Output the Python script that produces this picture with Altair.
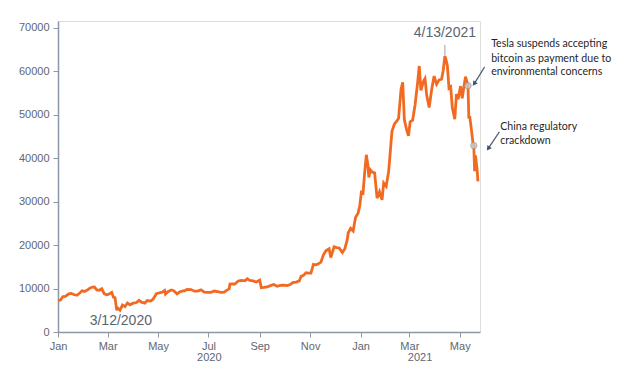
import altair as alt
import pandas as pd

dates = [
    "2020-01-01","2020-01-04","2020-01-07","2020-01-10","2020-01-14","2020-01-17","2020-01-20","2020-01-24",
    "2020-01-27","2020-01-30","2020-02-02","2020-02-05","2020-02-09","2020-02-12","2020-02-14","2020-02-17",
    "2020-02-20","2020-02-23","2020-02-26","2020-02-29","2020-03-03","2020-03-06","2020-03-08","2020-03-10",
    "2020-03-12","2020-03-13","2020-03-16","2020-03-19","2020-03-22","2020-03-25","2020-03-28","2020-04-01",
    "2020-04-05","2020-04-08","2020-04-11","2020-04-15","2020-04-18","2020-04-22","2020-04-25","2020-04-29",
    "2020-05-02","2020-05-06","2020-05-09","2020-05-10","2020-05-13","2020-05-17","2020-05-20","2020-05-24",
    "2020-05-27","2020-05-31","2020-06-02","2020-06-05","2020-06-10","2020-06-14","2020-06-18","2020-06-22",
    "2020-06-26","2020-06-30","2020-07-04","2020-07-08","2020-07-12","2020-07-16","2020-07-20","2020-07-23",
    "2020-07-26","2020-07-27","2020-07-30","2020-08-02","2020-08-06","2020-08-10","2020-08-14","2020-08-17",
    "2020-08-20","2020-08-24","2020-08-28","2020-09-01","2020-09-03","2020-09-06","2020-09-10","2020-09-14",
    "2020-09-18","2020-09-22","2020-09-26","2020-09-30","2020-10-04","2020-10-08","2020-10-11","2020-10-15",
    "2020-10-19","2020-10-21","2020-10-24","2020-10-27","2020-10-30","2020-11-02","2020-11-05","2020-11-08",
    "2020-11-11","2020-11-14","2020-11-17","2020-11-20","2020-11-24","2020-11-26","2020-11-30","2020-12-03",
    "2020-12-06","2020-12-10","2020-12-13","2020-12-16","2020-12-17","2020-12-20","2020-12-23","2020-12-26",
    "2020-12-29","2020-12-31","2021-01-02","2021-01-04","2021-01-06","2021-01-08","2021-01-10","2021-01-11",
    "2021-01-13","2021-01-15","2021-01-18","2021-01-21","2021-01-24","2021-01-27","2021-01-29","2021-02-01",
    "2021-02-04","2021-02-08","2021-02-11","2021-02-14","2021-02-16","2021-02-19","2021-02-21","2021-02-23",
    "2021-02-26","2021-02-28","2021-03-02","2021-03-05","2021-03-08","2021-03-11","2021-03-13","2021-03-15",
    "2021-03-18","2021-03-20","2021-03-22","2021-03-25","2021-03-28","2021-03-31","2021-04-03","2021-04-06",
    "2021-04-09","2021-04-11","2021-04-13","2021-04-14","2021-04-16","2021-04-18","2021-04-20","2021-04-22",
    "2021-04-25","2021-04-27","2021-04-29","2021-05-02","2021-05-04","2021-05-06","2021-05-08","2021-05-11",
    "2021-05-12","2021-05-13","2021-05-15","2021-05-17","2021-05-18","2021-05-19","2021-05-20","2021-05-22",
    "2021-05-23",
]
prices = [
    7200,7350,8160,8200,8800,8900,8630,8440,
    8900,9500,9340,9600,10150,10350,10360,9700,
    9600,9950,8780,8550,8750,9120,8030,7900,
    4970,5560,5020,6190,5830,6680,6250,6640,
    6780,7300,6880,6640,7250,7130,7540,8800,
    8980,9160,9550,8730,9270,9670,9510,8790,
    9200,9450,9460,9800,9770,9390,9410,9690,
    9170,9140,9130,9430,9290,9130,9160,9600,
    9930,11030,11100,11060,11750,11880,11790,12250,
    11880,11760,11500,11950,10200,10250,10360,10680,
    10930,10530,10740,10780,10670,10920,11380,11500,
    11760,12820,13030,13650,13560,13550,15580,15480,
    15700,16070,17730,18680,19160,17150,19620,19440,
    19360,18310,19170,21300,22800,23870,23240,26440,
    27360,29000,32170,31970,36770,40800,38300,35570,
    37300,36800,36630,30800,32290,30430,34320,33540,
    36930,46200,47900,48600,49200,55880,57500,48850,
    46340,45140,48370,48780,52390,57330,61240,55640,
    57650,58340,54530,51700,55780,58920,57060,58050,
    58200,60200,63500,62970,61340,56150,56470,51700,
    49000,54800,53560,56620,53800,56400,58800,56700,
    49150,49700,46760,43540,42900,37000,40670,37400,
    34700,
]

event_dates = ["2021-05-11", "2021-05-18"]
event_values = [56700, 42900]

text_labels = ["4/13/2021", "3/12/2020"]
text_dates = ["2021-04-13", "2020-03-17"]
text_values = [68800, 2600]

tesla_lines = ["Tesla suspends accepting", "bitcoin as payment due to", "environmental concerns"]
tesla_values = [66200, 62800, 59900]
china_lines = ["China regulatory", "crackdown"]
china_values = [47200, 44000]

year_labels = ["2020", "2021"]
year_dates = ["2020-07-02", "2021-03-14"]

month_ticks = ["2020-01-01","2020-03-01","2020-05-01","2020-07-01","2020-09-01","2020-11-01",
               "2021-01-01","2021-03-01","2021-05-01"]
y_ticks = [0, 10000, 20000, 30000, 40000, 50000, 60000, 70000]

def dt(s):
    y, m, d = [int(v) for v in s.split("-")]
    return alt.DateTime(year=y, month=m, date=d, utc=True)

xscale = alt.Scale(type="utc", domain=[dt("2020-01-01"), alt.DateTime(year=2021, month=5, date=25, hours=12, utc=True)], nice=False)
yscale = alt.Scale(domain=[0, 71600], nice=False, zero=False)

axis_color = "#8c98a5"
label_color = "#5f6670"

df = pd.DataFrame({"date": dates, "price": prices})

x_enc = alt.X("date:T", scale=xscale, title=None,
              axis=alt.Axis(values=[dt(s) for s in month_ticks], labelExpr="utcFormat(datum.value, '%b')",
                            grid=False, domainColor=axis_color, domainWidth=1.5, tickColor=axis_color,
                            tickSize=5, labelColor=label_color, labelFont="Liberation Sans", labelFontSize=11,
                            labelPadding=3, labelFlush=False))
y_enc = alt.Y("price:Q", scale=yscale, title=None,
              axis=alt.Axis(values=y_ticks, format="d", grid=False, domainColor=axis_color, domainWidth=1.5,
                            tickColor=axis_color, tickSize=5, labelColor=label_color,
                            labelFont="Liberation Sans", labelFontSize=11, labelPadding=4))

line = alt.Chart(df).mark_line(color="#f26a21", strokeWidth=2.8, clip=False).encode(x=x_enc, y=y_enc)

peak_rule = alt.Chart(pd.DataFrame({"date": ["2021-04-13"], "y1": [66100], "y2": [63600]})).mark_rule(
    color="#b0b0b0", strokeWidth=1.2).encode(x=alt.X("date:T", scale=xscale), y=alt.Y("y1:Q", scale=yscale), y2="y2:Q")

events = alt.Chart(pd.DataFrame({"date": event_dates, "price": event_values})).mark_point(
    filled=True, size=40, color="#c8c8c8", stroke="#a0a0a0", strokeWidth=1, opacity=0.85).encode(
    x=alt.X("date:T", scale=xscale), y=alt.Y("price:Q", scale=yscale))

date_text = alt.Chart(pd.DataFrame({"date": text_dates, "v": text_values, "t": text_labels})).mark_text(
    font="Liberation Sans", fontSize=14, color="#5a6472", align="center", baseline="middle").encode(
    x=alt.X("date:T", scale=xscale), y=alt.Y("v:Q", scale=yscale), text="t:N")

tesla_text = alt.Chart(pd.DataFrame({"date": ["2021-06-08"] * 3, "v": tesla_values, "t": tesla_lines})).mark_text(
    font="Lato", fontSize=10.6, color="#1f1f1f", align="left", baseline="middle").encode(
    x=alt.X("date:T", scale=xscale), y=alt.Y("v:Q", scale=yscale), text="t:N")

china_text = alt.Chart(pd.DataFrame({"date": ["2021-06-19"] * 2, "v": china_values, "t": china_lines})).mark_text(
    font="Lato", fontSize=10.6, color="#1f1f1f", align="left", baseline="middle").encode(
    x=alt.X("date:T", scale=xscale), y=alt.Y("v:Q", scale=yscale), text="t:N")

arrow_df = pd.DataFrame({
    "d1": ["2021-05-31", "2021-06-18"], "v1": [61000, 46100],
    "d2": ["2021-05-19", "2021-06-05"], "v2": [57300, 42400],
})
arrows = alt.Chart(arrow_df).mark_rule(color="#44546a", strokeWidth=1.2).encode(
    x=alt.X("d1:T", scale=xscale), y=alt.Y("v1:Q", scale=yscale), x2="d2:T", y2="v2:Q")
heads = alt.Chart(arrow_df).mark_point(shape="triangle", filled=True, size=30, color="#44546a", opacity=1,
                                       angle=216).encode(
    x=alt.X("d2:T", scale=xscale), y=alt.Y("v2:Q", scale=yscale))

years = alt.Chart(pd.DataFrame({"date": year_dates, "v": [-6100, -6100], "t": year_labels})).mark_text(
    font="Liberation Sans", fontSize=11, color=label_color, align="center", baseline="middle").encode(
    x=alt.X("date:T", scale=xscale), y=alt.Y("v:Q", scale=yscale), text="t:N")

chart = alt.layer(line, peak_rule, events, date_text, tesla_text, china_text, arrows, heads, years).properties(
    width=422, height=311,
    autosize=alt.AutoSizeParams(type="none"),
    padding={"left": 50, "top": 13, "right": 136, "bottom": 34},
).configure_view(stroke=None).configure(background="white")

chart.save("out.html", embed_options={"renderer": "svg", "actions": False})
